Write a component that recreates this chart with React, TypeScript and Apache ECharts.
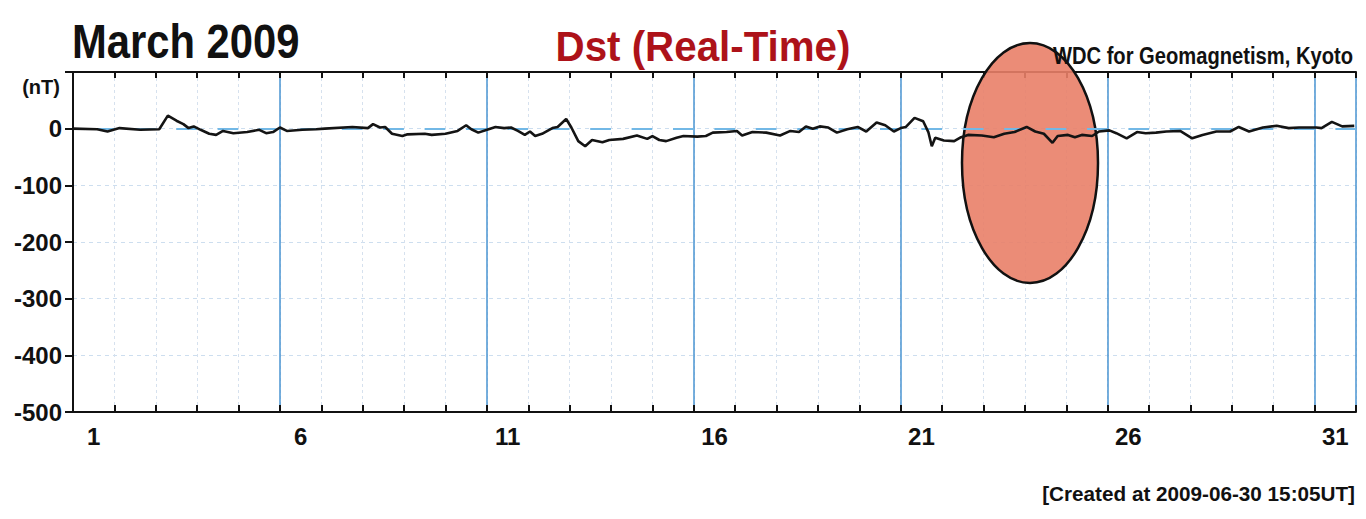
import React, { useEffect, useRef } from 'react';
import * as echarts from 'echarts';

// Hour of month (0 = 1 March 00 UT) and Dst value (nT)
const HOURS = [0, 14, 20, 27, 39, 50, 55, 60, 64, 67, 70, 74, 79, 83, 87, 93, 101, 108, 112, 116, 120, 124, 133, 141, 146, 162, 171, 174, 178, 181, 185, 191, 194, 204, 208, 216, 223, 228, 231, 235, 241, 245, 250, 254, 258, 262, 265, 268, 272, 278, 281, 286, 289, 293, 297, 301, 307, 311, 319, 327, 333, 336, 340, 344, 350, 354, 362, 367, 371, 379, 385, 388, 394, 402, 410, 416, 421, 425, 429, 433, 438, 443, 449, 455, 460, 466, 471, 476, 480, 483, 488, 493, 496, 498, 500, 505, 511, 515, 519, 527, 534, 540, 546, 553, 558, 563, 568, 571, 577, 581, 585, 591, 595, 601, 605, 611, 617, 622, 628, 634, 642, 649, 655, 663, 671, 676, 682, 690, 698, 705, 711, 721, 724, 730, 736, 743];
const DST = [0, -1, -5, 1, -2, -1, 23, 14, 8, 1, 4, -2, -9, -11, -4, -8, -6, -2, -8, -6, 2, -4, -2, -1, 0, 3, 1, 8, 2, 3, -9, -13, -10, -9, -11, -9, -4, 6, -1, -7, -1, 3, 1, 2, -4, -11, -5, -13, -9, 1, 3, 17, 2, -22, -31, -20, -24, -20, -18, -12, -18, -13, -20, -22, -16, -13, -14, -13, -7, -6, -4, -12, -6, -7, -12, -4, -6, 4, 0, 4, 2, -7, -1, 3, -5, 11, 6, -5, 1, 3, 19, 13, -6, -31, -16, -21, -22, -15, -11, -12, -15, -9, -6, 3, -5, -9, -25, -13, -11, -15, -11, -13, -5, -3, -8, -17, -6, -8, -7, -5, -4, -17, -11, -5, -5, 3, -5, 2, 5, 1, 2, 2, 1, 12, 4, 5];
const DAYS = ['1', '2', '3', '4', '5', '6', '7', '8', '9', '10', '11', '12', '13', '14', '15', '16', '17', '18', '19', '20', '21', '22', '23', '24', '25', '26', '27', '28', '29', '30', '31'];
const Y_MIN = -500;
const Y_MAX = 100;
const Y_STEP = 100;
const HOURS_IN_MONTH = 744;

const FONT = '"Liberation Sans", Arial, Helvetica, sans-serif';

export default function App() {
  const ref = useRef<HTMLDivElement>(null);
  useEffect(() => {
    document.body.style.margin = '0';
    const chart = echarts.init(ref.current!, null, { renderer: 'svg' });
    const axisBlack = { color: '#111', width: 2 };
    const option: any = {
      animation: false,
      backgroundColor: '#ffffff',
      grid: { left: 73, top: 72, right: 10, height: 340 },
      xAxis: [
        {
          type: 'value', min: 0, max: HOURS_IN_MONTH, interval: 24,
          axisLine: { show: false }, axisTick: { show: false }, axisLabel: { show: false },
          splitLine: { show: true, lineStyle: { color: '#d6e1ee', width: 1, type: [3, 3] } },
        },
        {
          type: 'value', min: 0, max: HOURS_IN_MONTH, interval: 120,
          axisLine: { show: false }, axisTick: { show: false }, axisLabel: { show: false },
          splitLine: { show: true, lineStyle: { color: '#4a95d2', width: 1.5 } },
        },
        {
          type: 'category', data: DAYS, position: 'bottom', boundaryGap: true,
          axisLine: { show: true, lineStyle: axisBlack },
          axisTick: { show: true, inside: true, length: 7, interval: 0, lineStyle: axisBlack },
          axisLabel: {
            interval: (i: number) => i % 5 === 0, margin: 12,
            fontSize: 24, fontWeight: 'bold', color: '#111', fontFamily: FONT,
          },
          splitLine: { show: false },
        },
        {
          type: 'category', data: DAYS, position: 'top', boundaryGap: true,
          axisLine: { show: true, lineStyle: axisBlack },
          axisTick: { show: true, inside: true, length: 6, interval: 0, lineStyle: axisBlack },
          axisLabel: { show: false },
          splitLine: { show: false },
        },
      ],
      yAxis: [
        {
          type: 'value', min: Y_MIN, max: Y_MAX, interval: Y_STEP, position: 'left',
          axisLine: { show: true, lineStyle: axisBlack },
          axisTick: { show: true, length: 8, lineStyle: axisBlack },
          axisLabel: {
            margin: 11, fontSize: 24, fontWeight: 'bold', color: '#111', fontFamily: FONT,
            formatter: (v: number) => (v === Y_MAX ? '' : String(v)),
          },
          splitLine: { show: true, lineStyle: { color: '#cddeef', width: 1, type: [4, 4] } },
        },
        {
          type: 'value', min: Y_MIN, max: Y_MAX, interval: Y_STEP, position: 'right',
          axisLine: { show: true, lineStyle: axisBlack },
          axisTick: { show: true, inside: true, length: 7, lineStyle: axisBlack },
          axisLabel: { show: false },
          splitLine: { show: false },
        },
      ],
      series: [
        {
          type: 'line',
          xAxisIndex: 0,
          yAxisIndex: 0,
          data: HOURS.map((h, i) => [h, DST[i]]),
          symbol: 'none',
          lineStyle: { color: '#141414', width: 2.6 },
          z: 5,
          markLine: {
            silent: true,
            symbol: 'none',
            label: { show: false },
            lineStyle: { color: '#72b8e6', width: 2, type: [20.7, 20.7], dashOffset: 20.7 },
            data: [{ yAxis: 0 }],
            z: 3,
          },
        },
      ],
      graphic: [
        {
          type: 'ellipse', z: 1,
          shape: { cx: 1030, cy: 163, rx: 68, ry: 120 },
          style: { fill: 'rgba(233,128,104,0.9)', stroke: '#111', lineWidth: 2.5 },
        },
        {
          type: 'text', x: 72, y: 41, scaleX: 0.87, z: 10,
          style: {
            text: 'March 2009', font: `bold 48px ${FONT}`, fill: '#111',
            align: 'left', textAlign: 'left', verticalAlign: 'middle', textVerticalAlign: 'middle',
          },
        },
        {
          type: 'text', x: 703, y: 47, scaleX: 0.96, z: 10,
          style: {
            text: 'Dst (Real-Time)', font: `bold 42px ${FONT}`, fill: '#ad1219',
            align: 'center', textAlign: 'center', verticalAlign: 'middle', textVerticalAlign: 'middle',
          },
        },
        {
          type: 'text', x: 1353, y: 56, scaleX: 0.84, z: 10,
          style: {
            text: 'WDC for Geomagnetism, Kyoto', font: `bold 24px ${FONT}`, fill: '#111',
            align: 'right', textAlign: 'right', verticalAlign: 'middle', textVerticalAlign: 'middle',
          },
        },
        {
          type: 'text', x: 41, y: 87, z: 10,
          style: {
            text: '(nT)', font: `bold 20px ${FONT}`, fill: '#111',
            align: 'center', textAlign: 'center', verticalAlign: 'middle', textVerticalAlign: 'middle',
          },
        },
        {
          type: 'text', x: 1355, y: 493, z: 10,
          style: {
            text: '[Created at 2009-06-30 15:05UT]', font: `bold 20.7px ${FONT}`, fill: '#111',
            align: 'right', textAlign: 'right', verticalAlign: 'middle', textVerticalAlign: 'middle',
          },
        },
      ],
    };
    chart.setOption(option);
    return () => chart.dispose();
  }, []);
  return <div ref={ref} style={{ width: 1366, height: 519 }} />;
}
